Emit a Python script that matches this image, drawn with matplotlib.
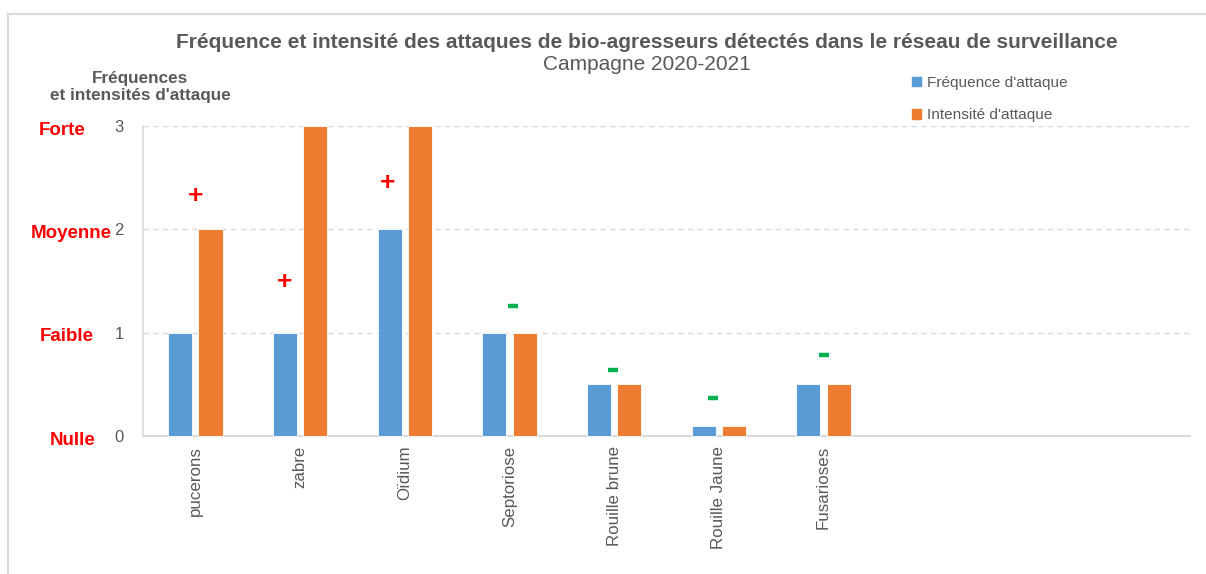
import matplotlib.pyplot as plt
import numpy as np
from matplotlib.patches import Patch, Rectangle

plt.rcParams['font.family'] = ['Liberation Sans', 'DejaVu Sans']

categories = ['pucerons', 'zabre', 'Oïdium', 'Septoriose', 'Rouille brune',
              'Rouille Jaune', 'Fusarioses']
n_slots = 10  # l'axe garde de la place pour 3 categories vides
frequence = [1, 1, 2, 1, 0.5, 0.1, 0.5]
intensite = [2, 3, 3, 1, 0.5, 0.1, 0.5]

# tendance par rapport a la campagne precedente
signes = ['+', '+', '+', '-', '-', '-', '-']
signe_y = [2.32, 1.49, 2.45, 1.26, 0.64, 0.37, 0.78]
signe_dx = [0.0, -0.15, -0.16, 0.03, -0.01, -0.06, 0.0]

niveaux = ['Nulle', 'Faible', 'Moyenne', 'Forte']
niveaux_x = [73, 67, 71, 62]

blue = '#5B9BD5'
orange = '#ED7D31'
gray = '#595959'

fig = plt.figure(figsize=(12.06, 5.74), dpi=100)
fig.patches.append(Rectangle((8 / 1206, -0.1), 1.2, (574 - 14) / 574 + 0.1,
                             transform=fig.transFigure, fill=False,
                             edgecolor='#D9D9D9', linewidth=1.5))
ax = fig.add_axes([143 / 1206, (574 - 436) / 574, (1190 - 143) / 1206, 310 / 574])

x = np.arange(len(categories))
w = 0.23
ax.bar(x - 0.145, frequence, w, color=blue, edgecolor='white', linewidth=0.6, clip_on=False, zorder=3)
ax.bar(x + 0.145, intensite, w, color=orange, edgecolor='white', linewidth=0.6, clip_on=False, zorder=3)

for i, (s, yv, dx) in enumerate(zip(signes, signe_y, signe_dx)):
    if s == '+':
        ax.text(i + dx, yv, '+', color='red', fontsize=19, fontweight='bold',
                ha='center', va='center')
    else:
        ax.plot(i + dx, yv, marker='_', color='#00B050', markersize=7,
                markeredgewidth=3.2)

ax.set_xlim(-0.5, n_slots - 0.5)
ax.set_ylim(0, 3)
ax.set_yticks([0, 1, 2, 3])
ax.tick_params(axis='y', length=0, pad=14, labelsize=12, labelcolor=gray)
ax.set_xticks(x)
ax.set_xticklabels(categories, rotation=90, fontsize=12.2, color=gray)
ax.tick_params(axis='x', length=0, pad=7)
ax.yaxis.grid(True, linestyle=(0, (4, 3)), color='#D9D9D9', linewidth=1)
ax.set_axisbelow(True)
for sp in ['top', 'right']:
    ax.spines[sp].set_visible(False)
ax.spines['bottom'].set_color('#D9D9D9')
ax.spines['bottom'].set_linewidth(1.5)
ax.spines['left'].set_color('#D9D9D9')
ax.spines['left'].set_linewidth(1.2)

fig.canvas.draw()
for lvl, xp, v in zip(niveaux, niveaux_x, [0, 1, 2, 3]):
    yp = ax.transData.transform((0, v))[1]
    fig.text(xp / 1206, yp / 574 - 0.007, lvl, color='red', fontsize=13.5,
             fontweight='bold', ha='center', va='center')

fig.text(140 / 1206, 1 - 87 / 574, "Fréquences\net intensités d'attaque", ha='center',
         va='center', fontsize=12.3, fontweight='bold', color=gray, linespacing=1.15)

fig.text(647 / 1206, 1 - 42 / 574,
         'Fréquence et intensité des attaques de bio-agresseurs détectés dans le réseau de surveillance',
         ha='center', va='center', fontsize=15, fontweight='bold', color=gray)
fig.text(647 / 1206, 1 - 65 / 574, 'Campagne 2020-2021', ha='center', va='center',
         fontsize=15, color=gray)

handles = [Patch(color=blue, label="Fréquence d'attaque"),
           Patch(color=orange, label="Intensité d'attaque")]
fig.legend(handles=handles, loc='upper left', bbox_to_anchor=(898 / 1206, 1 - 62 / 574),
           frameon=False, fontsize=11.1, handlelength=0.6, handleheight=0.6,
           handletextpad=0.4, labelspacing=1.2, labelcolor=gray)

fig.savefig('out.png', dpi=100, facecolor='white')
